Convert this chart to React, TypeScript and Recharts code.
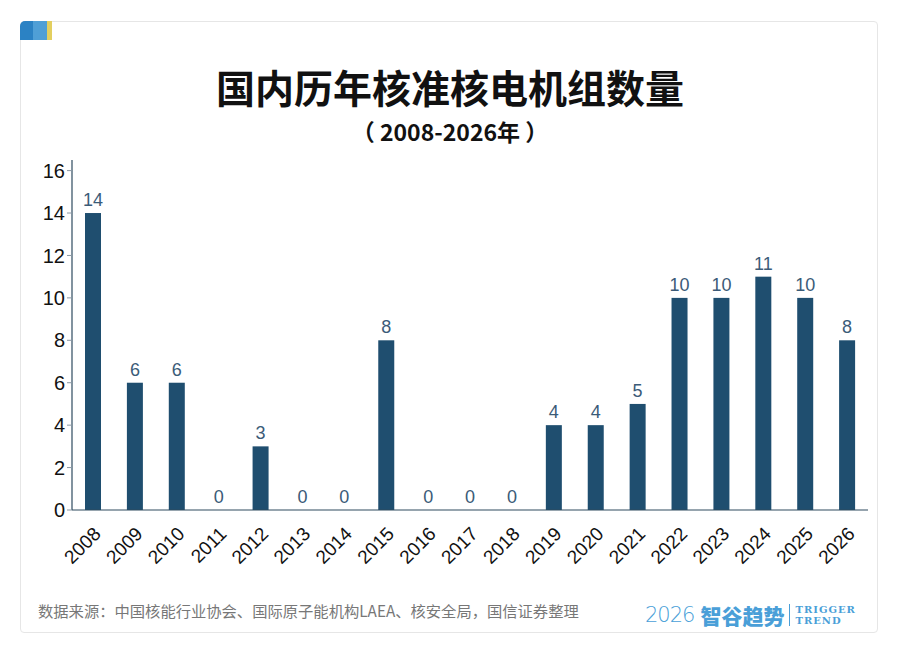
import { BarChart, Bar, XAxis, YAxis } from 'recharts'

const years = ['2008', '2009', '2010', '2011', '2012', '2013', '2014', '2015', '2016', '2017', '2018', '2019', '2020', '2021', '2022', '2023', '2024', '2025', '2026']
const approvals = [14, 6, 6, 0, 3, 0, 0, 8, 0, 0, 0, 4, 4, 5, 10, 10, 11, 10, 8]
const yTicks = [0, 2, 4, 6, 8, 10, 12, 14, 16]

const data = years.map((year, i) => ({ year, count: approvals[i] }))

const BAR = '#1f4e6f'
const LABEL = '#3b5b78'
const SANS = '"Liberation Sans", Arial, sans-serif'
const CJK = '"Noto Sans CJK SC", "Noto Sans", sans-serif'

// rotated year labels, anchored at their top-right corner
function YearTick({ x, y, payload }: any) {
    return (
        <text
            x={x + 9}
            y={y + 17}
            textAnchor="end"
            transform={`rotate(-45 ${x + 9} ${y + 17})`}
            fontSize={19}
            fontFamily={SANS}
            fill="#111"
        >
            {payload.value}
        </text>
    )
}

// bar plus its value; zero bars still get their "0"
function BarWithValue({ x, y, width, height, payload }: any) {
    const h = Math.max(0, height || 0)
    return (
        <g>
            {h > 0 && <rect x={x} y={y} width={width} height={h} fill={BAR} />}
            <text x={x + width / 2} y={y - 7} textAnchor="middle" fontSize={18} fontFamily={SANS} fill={LABEL}>
                {payload.count}
            </text>
        </g>
    )
}

export default function App() {
    return (
        <div style={{ position: 'absolute', left: 0, top: 0, width: 900, height: 655, background: '#fff', overflow: 'hidden' }}>
            {/* card */}
            <div style={{ position: 'absolute', left: 20, top: 21, width: 856, height: 610, border: '1px solid #e6e6e6', borderRadius: 4 }} />
            {/* corner tag */}
            <div style={{ position: 'absolute', left: 20, top: 21, width: 32, height: 19, display: 'flex', borderTopLeftRadius: 5, overflow: 'hidden' }}>
                <div style={{ width: 13, background: '#2b82c4' }} />
                <div style={{ width: 14, background: '#4f9fd6' }} />
                <div style={{ width: 5, background: '#e3cf5f' }} />
            </div>

            <div style={{ position: 'absolute', left: 0, top: 58, width: 900, textAlign: 'center', fontFamily: CJK, fontWeight: 700, fontSize: 39, color: '#111', lineHeight: '56px' }}>
                国内历年核准核电机组数量
            </div>
            <div style={{ position: 'absolute', left: 0, top: 115, width: 900, textAlign: 'center', fontFamily: CJK, fontWeight: 700, fontSize: 23, color: '#111', lineHeight: '32px' }}>
                （ 2008-2026年 ）
            </div>

            <div style={{ position: 'absolute', left: 0, top: 0 }}>
                <BarChart width={900} height={655} data={data} margin={{ top: 160, right: 32, bottom: 85, left: 22 }}>
                    <XAxis
                        dataKey="year"
                        axisLine={{ stroke: '#2e4a5f', strokeWidth: 1.2 }}
                        tickLine={false}
                        tick={<YearTick />}
                        interval={0}
                        height={60}
                    />
                    <YAxis
                        domain={[0, 16.5]}
                        ticks={yTicks}
                        axisLine={{ stroke: '#2e4a5f', strokeWidth: 1.2 }}
                        tickLine={{ stroke: '#8a98a4' }}
                        tickSize={5}
                        tick={{ fontSize: 20, fill: '#111', fontFamily: SANS }}
                        width={50}
                    />
                    <Bar dataKey="count" fill={BAR} barSize={16} shape={<BarWithValue />} isAnimationActive={false} />
                </BarChart>
            </div>

            <div style={{ position: 'absolute', left: 38, top: 599, fontFamily: CJK, fontSize: 15.3, color: '#777', lineHeight: '22px' }}>
                数据来源：中国核能行业协会、国际原子能机构LAEA、核安全局，国信证券整理
            </div>

            <div style={{ position: 'absolute', left: 645, top: 600, display: 'flex', alignItems: 'center', color: '#4a9fd8' }}>
                <span style={{ fontFamily: '"DejaVu Sans", sans-serif', fontWeight: 200, fontSize: 21, letterSpacing: -1, marginRight: 6 }}>2026</span>
                <span style={{ fontFamily: CJK, fontWeight: 900, fontSize: 21 }}>智谷趋势</span>
                <span style={{ width: 1, height: 22, background: '#4a9fd8', margin: '0 5px' }} />
                <span style={{ fontFamily: '"DejaVu Serif", serif', fontWeight: 700, fontSize: 10, lineHeight: '11px', letterSpacing: 1 }}>
                    TRIGGER<br />TREND
                </span>
            </div>
        </div>
    )
}
